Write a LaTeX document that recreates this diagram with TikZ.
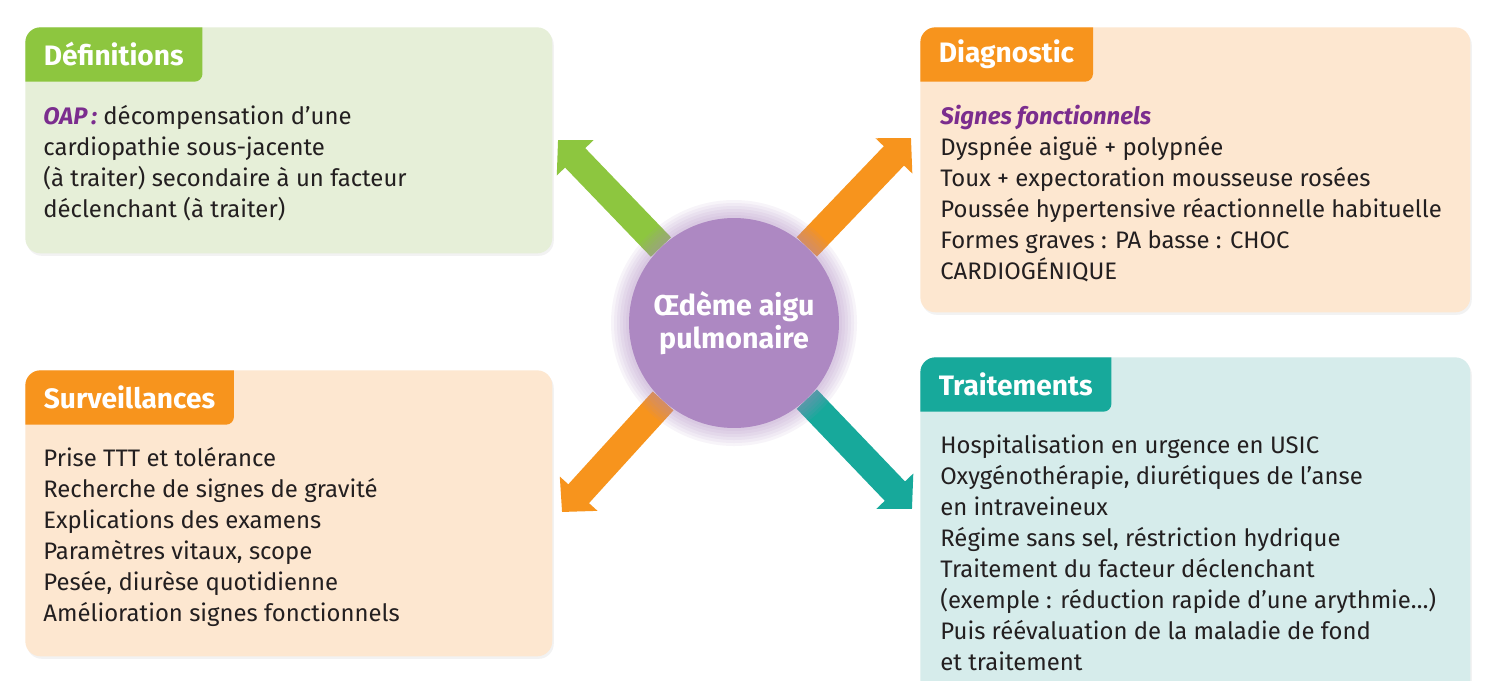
\documentclass[tikz,border=0pt]{standalone}
\usepackage{fontspec}
\setsansfont{Fira Sans}
\usetikzlibrary{arrows.meta, positioning, backgrounds, shadows}

\definecolor{defGreen}{HTML}{8DC63F}
\definecolor{defLight}{HTML}{E6EFD8}
\definecolor{diagOrange}{HTML}{F7941D}
\definecolor{diagLight}{HTML}{FDE7D0}
\definecolor{traitTeal}{HTML}{17A99B}
\definecolor{traitLight}{HTML}{D6ECEB}
\definecolor{hubPurple}{HTML}{AD88C2}
\definecolor{oapPurple}{HTML}{7B2D8E}
\definecolor{bodyText}{HTML}{231F20}

\begin{document}
\begin{tikzpicture}[
  x=0.02cm, y=-0.02cm,
  font=\sffamily,
  box/.style={
    rectangle,
    rounded corners=3mm,
    anchor=north west,
    inner sep=0pt,
    drop shadow={opacity=0.1, shadow xshift=0.3mm, shadow yshift=-0.5mm}
  },
  tab/.style 2 args={
    path picture={\fill[#1, rounded corners=1.6mm]
      ([xshift=-5mm, yshift=5mm]#2.north west) rectangle (#2.south east);}
  },
  head/.style={
    anchor=north west,
    text=white,
    inner xsep=3.7mm,
    inner ysep=0pt,
    minimum height=1.08cm,
    font=\sffamily\bfseries\fontsize{16}{19}\selectfont
  },
  body/.style={
    anchor=base west,
    align=left,
    inner sep=0pt,
    text=bodyText,
    font=\sffamily\fontsize{13.6}{17.6}\selectfont
  },
  hub/.style={
    circle,
    fill=hubPurple,
    minimum size=4.2cm,
    inner sep=0pt,
    align=center,
    text=white,
    font=\sffamily\bfseries\fontsize{16.3}{18.7}\selectfont
  },
  arrow/.style={line width=5.6mm, -{Triangle[length=4.95mm, width=9.9mm]}}
]

\useasboundingbox (0,0) rectangle (1500,680);
\begin{scope}[on background layer]
\fill[white] (0,0) rectangle (1500,680);
\end{scope}

% --- Definitions ---
\node[head] (defHead) at (25,27) {Définitions};
\begin{scope}[on background layer]
\node[box, fill=defLight, minimum width=10.54cm, minimum height=4.52cm,
  tab={defGreen}{defHead}] (defBox) at (25,27) {};
\end{scope}
\node[body] (defText) at (43,217)
{{\color{oapPurple}\bfseries\itshape OAP\,:} décompensation d’une\\
cardiopathie sous-jacente\\
(à traiter) secondaire à un facteur\\
déclenchant (à traiter)};

% --- Diagnostic ---
\node[head] (diagHead) at (920,27) {Diagnostic};
\begin{scope}[on background layer]
\node[box, fill=diagLight, minimum width=11cm, minimum height=5.7cm,
  tab={diagOrange}{diagHead}] (diagBox) at (920,27) {};
\end{scope}
\node[body] (diagText) at (940,279)
{{\color{oapPurple}\bfseries\itshape Signes fonctionnels}\\
Dyspnée aiguë + polypnée\\
Toux + expectoration mousseuse rosées\\
Poussée hypertensive réactionnelle habituelle\\
Formes graves : PA basse : CHOC\\
CARDIOGÉNIQUE};

% --- Surveillances ---
\node[head] (survHead) at (25,370) {Surveillances};
\begin{scope}[on background layer]
\node[box, fill=diagLight, minimum width=10.54cm, minimum height=5.72cm,
  tab={diagOrange}{survHead}] (survBox) at (25,370) {};
\end{scope}
\node[body] (survText) at (43,621)
{Prise TTT et tolérance\\
Recherche de signes de gravité\\
Explications des examens\\
Paramètres vitaux, scope\\
Pesée, diurèse quotidienne\\
Amélioration signes fonctionnels};

% --- Traitements ---
\node[head] (traitHead) at (920,357) {Traitements};
\begin{scope}[on background layer]
\node[box, fill=traitLight, minimum width=11cm, minimum height=7.4cm,
  tab={traitTeal}{traitHead}] (traitBox) at (920,357) {};
\end{scope}
\node[body] (traitText) at (940,670)
{Hospitalisation en urgence en USIC\\
Oxygénothérapie, diurétiques de l'anse\\
en intraveineux\\
Régime sans sel, réstriction hydrique\\
Traitement du facteur déclenchant\\
(exemple : réduction rapide d'une arythmie…)\\
Puis réévaluation de la maladie de fond\\
et traitement};

% --- Centre ---
\coordinate (hubC) at (734,323);
\foreach \r in {102,105,...,124}
  \fill[hubPurple, opacity=0.09] (hubC) circle[radius=\r*0.02cm];
\node[hub] (hub) at (hubC) {Œdème aigu\\pulmonaire};

\coordinate (defTip) at (558,140);
\coordinate (diagTip) at (911,138);
\coordinate (survTip) at (562,512);
\coordinate (traitTip) at (912,509);

\begin{scope}[on background layer]
\draw[arrow, defGreen] (hub) -- (defTip);
\draw[arrow, diagOrange] (hub) -- (diagTip);
\draw[arrow, diagOrange] (hub) -- (survTip);
\draw[arrow, traitTeal] (hub) -- (traitTip);
\end{scope}

\end{tikzpicture}
\end{document}
